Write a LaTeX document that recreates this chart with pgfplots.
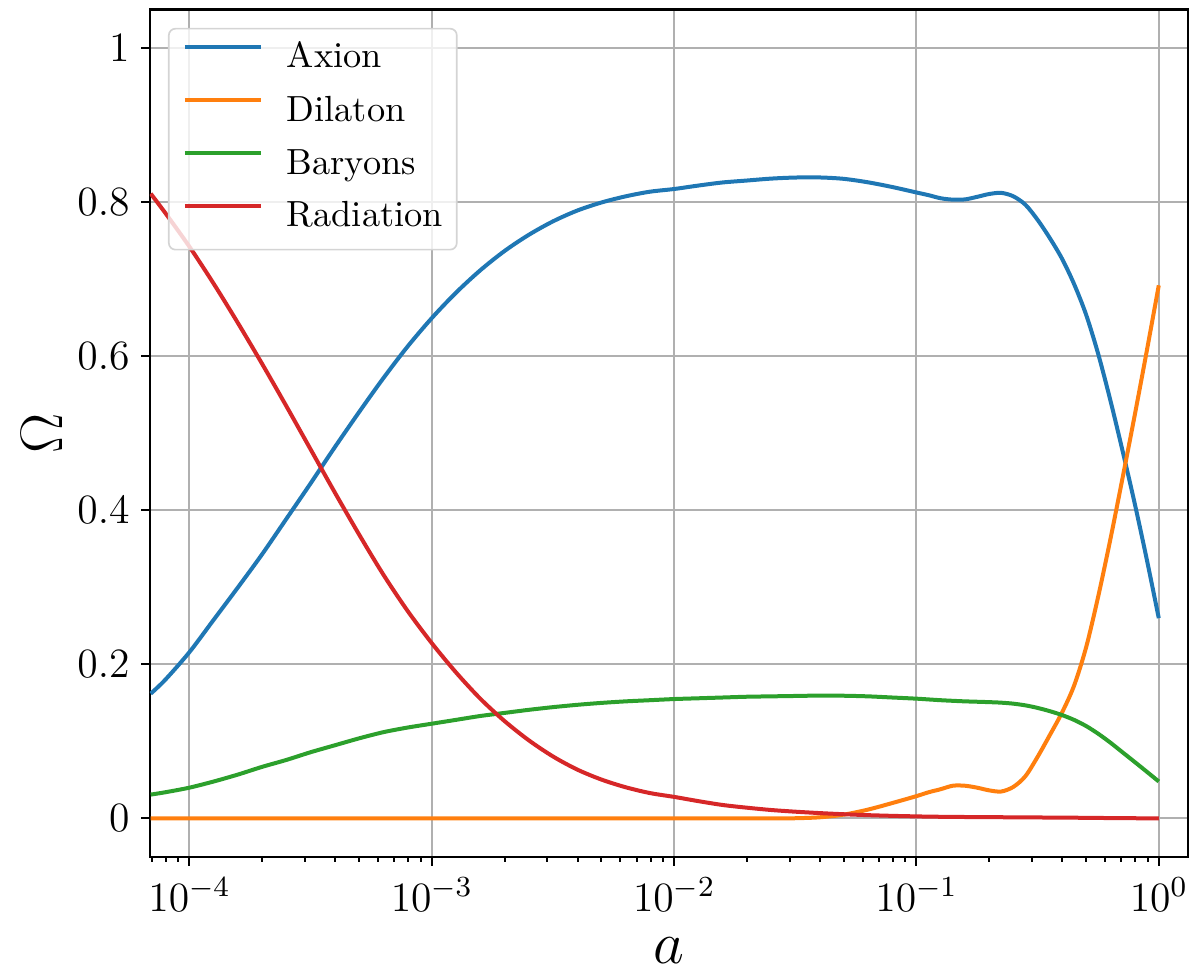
\RequirePackage{fix-cm}
\documentclass[border=0pt]{standalone}
\usepackage{pgfplots}
\usepackage{pgfplotstable}
\pgfplotsset{compat=1.18}

\definecolor{cblue}{HTML}{1F77B4}
\definecolor{corange}{HTML}{FF7F0E}
\definecolor{cgreen}{HTML}{2CA02C}
\definecolor{cred}{HTML}{D62728}
\definecolor{gridgray}{HTML}{B0B0B0}
\definecolor{legendgray}{HTML}{D4D4D4}

% Density parameters against the scale factor a
\pgfplotstableread{
a          axion   dilaton  baryons  radiation
6.918e-5   0.162   0        0.031    0.811
7.943e-5   0.180   0        0.034    0.786
1.000e-4   0.216   0        0.040    0.742
1.259e-4   0.258   0        0.048    0.694
1.585e-4   0.300   0        0.057    0.643
1.995e-4   0.343   0        0.067    0.590
2.512e-4   0.389   0        0.076    0.535
3.162e-4   0.435   0        0.086    0.479
3.981e-4   0.482   0        0.095    0.423
5.012e-4   0.5275  0        0.104    0.3685
6.310e-4   0.5715  0        0.112    0.3165
7.943e-4   0.6125  0        0.118    0.2695
1.000e-3   0.6495  0        0.123    0.2275
1.259e-3   0.6825  0        0.128    0.1895
1.585e-3   0.7115  0        0.133    0.1555
1.995e-3   0.7365  0        0.137    0.1265
2.512e-3   0.7575  0        0.141    0.1015
3.162e-3   0.775   0        0.1445   0.0805
3.981e-3   0.789   0        0.1475   0.0635
5.012e-3   0.7995  0        0.150    0.0505
6.310e-3   0.8075  0        0.152    0.0405
7.943e-3   0.8135  0        0.1535   0.033
1.000e-2   0.817   0        0.155    0.028
1.259e-2   0.8215  0        0.156    0.0225
1.585e-2   0.8255  0        0.157    0.0175
1.995e-2   0.828   0        0.158    0.014
2.512e-2   0.8305  0        0.1585   0.011
3.162e-2   0.8319  0.0003   0.159    0.0088
3.981e-2   0.832   0.0015   0.1595   0.007
5.012e-2   0.8302  0.005    0.1593   0.0055
6.310e-2   0.8257  0.0115   0.1585   0.0043
7.943e-2   0.8196  0.020    0.157    0.0034
0.1000     0.8125  0.029    0.1555   0.0027
0.1122     0.809   0.034    0.1545   0.0024
0.1259     0.805   0.038    0.1535   0.0022
0.1413     0.8032  0.0425   0.1527   0.0021
0.1585     0.8035  0.0425   0.152    0.0019
0.1778     0.8068  0.040    0.1515   0.0018
0.1995     0.8105  0.0365   0.151    0.0017
0.2239     0.8120  0.035    0.1503   0.0016
0.2512     0.8075  0.041    0.1490   0.0015
0.2818     0.7965  0.055    0.1468   0.0014
0.3162     0.777   0.080    0.1435   0.0013
0.3548     0.7535  0.108    0.1393   0.0012
0.3981     0.727   0.137    0.1343   0.0011
0.4467     0.694   0.172    0.1280   0.0010
0.5012     0.654   0.222    0.1200   0.0008
0.5623     0.603   0.288    0.1100   0.0007
0.6310     0.543   0.362    0.0985   0.0005
0.7079     0.478   0.441    0.0860   0.0004
0.7943     0.410   0.522    0.0735   0.0003
0.8913     0.337   0.606    0.0608   0.0002
1.0000     0.260   0.692    0.048    0.0001
}\omegadata

\begin{document}
\begin{tikzpicture}
\begin{axis}[
  scale only axis,
  width=311.4pt, height=254.25pt,
  xmode=log, log basis x=10,
  xmin=6.87e-5, xmax=1.32,
  ymin=-0.05, ymax=1.05,
  xtick={1e-4,1e-3,1e-2,1e-1,1},
  minor xtick={7e-5,8e-5,9e-5,
    2e-4,3e-4,4e-4,5e-4,6e-4,7e-4,8e-4,9e-4,
    2e-3,3e-3,4e-3,5e-3,6e-3,7e-3,8e-3,9e-3,
    2e-2,3e-2,4e-2,5e-2,6e-2,7e-2,8e-2,9e-2,
    0.2,0.3,0.4,0.5,0.6,0.7,0.8,0.9},
  ytick={0,0.2,0.4,0.6,0.8,1},
  xmajorgrids, ymajorgrids,
  major grid style={line width=0.6pt, draw=gridgray},
  axis line style={line width=0.8pt},
  tick align=outside, tick pos=left,
  major tick length=2.6pt, minor tick length=1.5pt,
  every tick/.style={black, line width=0.6pt},
  tick label style={font=\fontsize{12.5}{15}\selectfont},
  xlabel={$a$}, ylabel={$\Omega$},
  label style={font=\fontsize{18}{21}\selectfont},
  xlabel style={at={(axis description cs:0.5,-0.111)}, anchor=center},
  ylabel style={at={(axis description cs:-0.104,0.5)}, anchor=center},
  legend cell align=left,
  legend image code/.code={\draw[#1] (0pt,3.7pt) -- (22.8pt,3.7pt);},
  legend style={
    at={(axis description cs:0,1)}, anchor=north west,
    xshift=5.4pt, yshift=-5.5pt,
    draw=legendgray, line width=0.5pt, rounded corners=2pt,
    fill=white, fill opacity=0.8, text opacity=1,
    font=\fontsize{10.9}{13}\selectfont,
    inner xsep=4.2pt, inner ysep=4.3pt,
    row sep=5.9pt, column sep=7.2pt,
    nodes={inner sep=0pt, text height=0.75em, text depth=0.25em},
  },
  every axis plot/.append style={line width=1.2pt, smooth},
]
\addplot[cblue]   table[x=a, y=axion]     {\omegadata};
\addlegendentry{Axion}
\addplot[corange] table[x=a, y=dilaton]   {\omegadata};
\addlegendentry{Dilaton}
\addplot[cgreen]  table[x=a, y=baryons]   {\omegadata};
\addlegendentry{Baryons}
\addplot[cred]    table[x=a, y=radiation] {\omegadata};
\addlegendentry{Radiation}
\end{axis}
\pgfresetboundingbox
\path (current axis.south west) ++(-45pt,-34.8pt) rectangle ++(357.3pt,291.9pt);
\end{tikzpicture}
\end{document}
